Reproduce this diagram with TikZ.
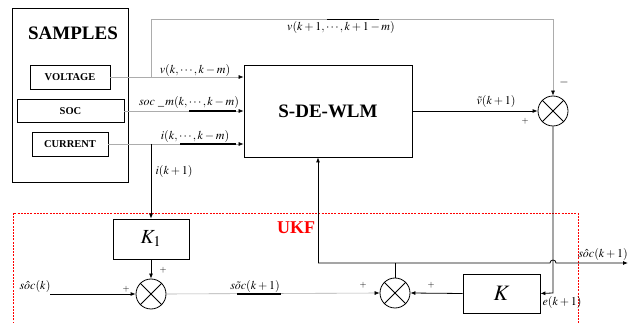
\documentclass[tikz,border=0pt]{standalone}
\usepackage{mathptmx}
\usepackage{fontspec}
\setmainfont{Liberation Serif}
\usetikzlibrary{arrows.meta}
\begin{document}
\begin{tikzpicture}[x=1pt,y=-1pt,
  box/.style={draw, line width=0.8pt, inner sep=0pt, rectangle},
  sumc/.style={draw, circle, line width=0.8pt, minimum size=30pt, inner sep=0pt},
  gl/.style={draw=gray!65, line width=0.6pt},
  bl/.style={draw=black, line width=0.8pt},
  arr/.style={-{Latex[length=5pt,width=4pt,color=black]}},
  over/.style={draw=black, line width=1.4pt},
  lab/.style={font=\fontsize{12}{14}\selectfont, inner sep=0pt},
  pm/.style={font=\fontsize{9}{10}\selectfont, inner sep=0pt},
  capt/.style={font=\fontsize{10.5}{12}\selectfont\bfseries}
]
\useasboundingbox (0,0) rectangle (630,323);

% UKF dashed frame
\draw[red, line width=0.6pt, dash pattern=on 2pt off 1.2pt] (13,330) -- (13,213) -- (578,213) -- (578,330);
\node[text=red, font=\fontsize{18}{20}\selectfont\bfseries] (ukf) at (296,228) {UKF};

% samples
\node[box, minimum width=116pt, minimum height=174pt] (samp) at (70,95) {};
\node[font=\fontsize{19}{21}\selectfont\bfseries] (samptxt) at (73,33) {SAMPLES};
\node[box, minimum width=80pt, minimum height=24pt, capt] (volt) at (70,77) {VOLTAGE};
\node[box, minimum width=107pt, minimum height=23pt, capt] (soc) at (70.5,111) {SOC};
\node[box, minimum width=76pt, minimum height=24pt, capt] (cur) at (70,144) {CURRENT};

% main blocks
\node[box, minimum width=168pt, minimum height=92pt, font=\fontsize{19}{21}\selectfont\bfseries] (wlm) at (328,111) {S-DE-WLM};
\node[sumc] (s1) at (553,111) {};
\node[box, minimum width=76pt, minimum height=40pt, font=\fontsize{20}{22}\selectfont] (k1) at (151,239) {$K_1$};
\node[sumc] (s0) at (151,294) {};
\node[sumc] (s2) at (395,293) {};
\node[box, minimum width=77pt, minimum height=39pt, font=\fontsize{22}{24}\selectfont] (kb) at (501.5,293.5) {$K$};
\foreach \c in {s0,s1,s2} {\draw[line width=0.8pt] (\c.45) -- (\c.225) (\c.135) -- (\c.315);}

% coordinates
\coordinate (vj) at (151,77);
\coordinate (tl) at (151,19);
\coordinate (tr) at (553,19);
\coordinate (ij) at (151,144);
\coordinate (ec) at (553,293);
\coordinate (j1) at (318,263);
\coordinate (j2) at (395,263);
\coordinate (hop) at (553,263);
\coordinate (out) at (628,263);
\coordinate (in0) at (50,294);

% input lines
\draw[gl, arr] (volt.east) -- (wlm.west |- volt.east);
\draw[gl, arr] (soc.east) -- (wlm.west |- soc.east);
\draw[gl, arr] (cur.east) -- (wlm.west |- cur.east);
\draw[over] (189,111) -- (236,111);
\draw[over] (180,144) -- (236,144);

% feedback top
\draw[gl, arr] (vj) -- (tl) -- (tr) -- (s1.north);
\draw[over] (327,19.3) -- (379,19.3);

% i branch
\draw[bl, arr] (ij) -- (k1.north);

% wlm to s1
\draw[bl, arr] (wlm.east) -- (s1.west);
% s1 down to K
\draw[bl, arr] (s1.south) -- (ec) -- (kb.east);
\draw[bl, arr] (kb.west) -- (s2.east);
\draw[bl, arr] (k1.south) -- (s0.north);
\draw[bl, arr] (in0) -- (s0.west);
\draw[gl, arr] (s0.east) -- (s2.west);
\draw[over] (237,294) -- (281,294);
\draw[bl] (s2.north) -- (j2);
\draw[bl, arr] (j1) -- ([xshift=-3pt]hop) arc (180:0:3pt) -- (out);
\draw[bl, arr] (j1) -- (wlm.south -| j1);

% labels
\node[lab] (l1) at (195,71) {$v(k,\cdots,k-m)$};
\node[lab] (l2) at (189,103) {$soc\ \_\,m(k,\cdots,k-m)$};
\node[lab] (l3) at (195,137) {$i(k,\cdots,k-m)$};
\node[lab] (l4) at (174,172) {$i(k+1)$};
\node[lab] (l5) at (341,28) {$v(k+1,\cdots,k+1-m)$};
\node[lab] (l6) at (496,102) {$\tilde{v}(k+1)$};
\node[font=\fontsize{12}{14}\selectfont\bfseries, inner sep=0pt] (m1) at (564,83) {$-$};
\node[pm] (p1) at (525,121) {$+$};
\node[lab] (l7) at (603,255) {$s\hat{o}c(k+1)$};
\node[lab] (l8) at (562,303) {$e(k+1)$};
\node[pm] (p2) at (363,285) {$+$};
\node[pm] (p3) at (431,285) {$+$};
\node[lab] (l9) at (35,287) {$s\hat{o}c(k)$};
\node[pm] (p4) at (126,289) {$+$};
\node[pm] (p5) at (163,270) {$+$};
\node[lab] (l10) at (255,287) {$s\tilde{o}c(k+1)$};
\end{tikzpicture}
\end{document}
